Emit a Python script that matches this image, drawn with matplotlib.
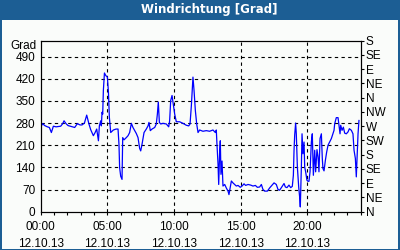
import matplotlib
matplotlib.use("Agg")
import matplotlib.pyplot as plt
from matplotlib.patches import Rectangle

# Wind direction readings (hours since 00:00, degrees)
hours = [
    0.0, 0.15, 0.3, 0.5, 0.65, 0.8, 0.95, 1.15, 1.35, 1.5, 1.65, 1.75, 1.9, 2.05,
    2.3, 2.55, 2.75, 2.95, 3.1, 3.28, 3.45, 3.62, 3.75, 3.95, 4.08, 4.2, 4.33,
    4.4, 4.5, 4.55, 4.6, 4.65, 4.7, 4.78, 4.88, 4.95, 5.0, 5.08, 5.15, 5.25,
    5.45, 5.65, 5.8, 5.87, 5.92, 6.0, 6.1, 6.15, 6.25, 6.42, 6.55, 6.67, 6.8,
    6.92, 7.05, 7.17, 7.3, 7.42, 7.5, 7.6, 7.75, 7.92, 8.05, 8.12, 8.22, 8.35,
    8.55, 8.67, 8.75, 8.82, 8.9, 9.0, 9.17, 9.42, 9.6, 9.67, 9.75, 9.85, 9.92,
    10.05, 10.17, 10.42, 10.67, 10.92, 11.1, 11.2, 11.3, 11.42, 11.5, 11.6,
    11.7, 11.8, 11.92, 12.17, 12.42, 12.67, 12.92, 13.1, 13.17, 13.22, 13.3,
    13.35, 13.42, 13.47, 13.52, 13.6, 13.67, 13.8, 13.92, 14.05, 14.12, 14.22,
    14.3, 14.42, 14.55, 14.67, 14.8, 14.97, 15.1, 15.25, 15.37, 15.55, 15.75,
    15.92, 16.1, 16.25, 16.42, 16.55, 16.67, 16.8, 17.0, 17.17, 17.35, 17.5,
    17.67, 17.8, 17.92, 18.05, 18.25, 18.35, 18.47, 18.62, 18.75, 18.87, 18.95,
    19.0, 19.05, 19.12, 19.17, 19.25, 19.35, 19.42, 19.47, 19.55, 19.6, 19.67,
    19.75, 19.8, 19.87, 19.97, 20.05, 20.12, 20.2, 20.3, 20.37, 20.45, 20.55,
    20.62, 20.72, 20.8, 20.87, 20.95, 21.05, 21.12, 21.17, 21.25, 21.35, 21.45,
    21.55, 21.67, 21.8, 21.92, 22.0, 22.05, 22.17, 22.3, 22.37, 22.45, 22.5,
    22.6, 22.7, 22.8, 22.92, 23.05, 23.15, 23.3, 23.42, 23.5, 23.6, 23.67,
    23.72, 23.8, 23.87,
]
direction = [
    268, 278, 272, 268, 266, 250, 270, 268, 269, 270, 278, 287, 278, 272,
    269, 266, 278, 274, 274, 280, 305, 277, 259, 240, 250, 261, 224,
    271, 287, 271, 314, 308, 383, 438, 430, 427, 425, 378, 298, 250,
    258, 261, 261, 213, 139, 112, 102, 234, 227, 234, 240, 250, 279,
    266, 256, 247, 234, 200, 192, 213, 250, 261, 271, 282, 256, 261,
    266, 277, 308, 346, 282, 277, 279, 277, 268, 287, 351, 367, 346,
    308, 284, 284, 279, 273, 271, 277, 335, 425, 383, 319,
    277, 250, 258, 254, 256, 254, 258, 250, 258, 213, 150,
    86, 187, 224, 118, 160, 81, 86, 75, 65, 54, 77,
    97, 91, 86, 81, 83, 77, 81, 88, 83, 86, 84,
    81, 83, 77, 78, 86, 70, 65, 65, 75, 84, 91,
    86, 70, 68, 76, 89, 78, 76, 84, 76, 80, 115,
    194, 243, 280, 246, 141, 78, 47, 15, 141, 246, 183,
    220, 141, 126, 99, 96, 96, 126, 220, 246, 115, 194,
    126, 196, 173, 126, 231, 246, 168, 136, 129, 162, 189,
    210, 220, 231, 246, 257, 278, 297, 297, 273, 246, 273,
    257, 267, 248, 246, 252, 262, 257, 246, 194, 168, 110,
    162, 246, 288,
]

left_ticks = [0, 70, 140, 210, 280, 350, 420, 490]
compass = ["N", "NE", "E", "SE", "S", "SW", "W", "NW", "N", "NE", "E", "SE", "S"]
compass_deg = [i * 45 for i in range(len(compass))]
time_ticks = [0, 5, 10, 15, 20]
time_labels = ["00:00\n12.10.13", "05:00\n12.10.13", "10:00\n12.10.13",
               "15:00\n12.10.13", "20:00\n12.10.13"]

frame_blue = "#1c5e94"
bg = "#fafcfa"

plt.rcParams["font.family"] = ["Liberation Sans Narrow", "Liberation Sans", "DejaVu Sans"]

fig = plt.figure(figsize=(4, 2.5), dpi=100, facecolor=frame_blue)
fig.add_artist(Rectangle((2 / 400, 1 / 250), 396 / 400, 229 / 250,
                         transform=fig.transFigure, facecolor=bg,
                         edgecolor="none", zorder=0))
fig.text(209 / 400, 1 - 10 / 250, "Windrichtung [Grad]", color="white",
         fontsize=8.5, fontweight="bold", ha="center", va="center",
         family=["DejaVu Sans"])

ax = fig.add_axes([40.7 / 400, 38.3 / 250, 320 / 400, 171 / 250])
ax.set_facecolor(bg)
ax.plot(hours, direction, color="#0000ff", linewidth=0.9, zorder=3)

ax.set_xlim(0, 24)
ax.set_ylim(0, 540)
ax.set_yticks(left_ticks)
ax.set_yticklabels([str(v) for v in left_ticks], fontsize=8.5)
ax.tick_params(axis="y", length=0, pad=4)
ax.set_xticks(time_ticks)
ax.set_xticklabels(time_labels, fontsize=8.5, linespacing=1.6)
ax.set_xticks(range(0, 25), minor=True)
ax.tick_params(axis="x", which="both", direction="out", length=2.5,
               width=0.8, pad=4)

for v in left_ticks[1:]:
    ax.axhline(v, color="black", linewidth=0.8, linestyle=(0, (3, 3)), zorder=1)
for t in time_ticks[1:]:
    ax.axvline(t, color="black", linewidth=0.8, linestyle=(0, (3, 3)), zorder=1)

for sp in ax.spines.values():
    sp.set_linewidth(0.8)

ax.text(-0.012, 1.0 - 5 / 171, "Grad", transform=ax.transAxes, fontsize=8.5,
        ha="right", va="center")

ax2 = ax.twinx()
ax2.set_ylim(0, 540)
ax2.set_yticks(compass_deg)
ax2.set_yticklabels(compass, fontsize=8.5)
ax2.tick_params(axis="y", direction="out", length=2.5, width=0.8, pad=1)

fig.savefig("out.png", dpi=100, facecolor=frame_blue)
